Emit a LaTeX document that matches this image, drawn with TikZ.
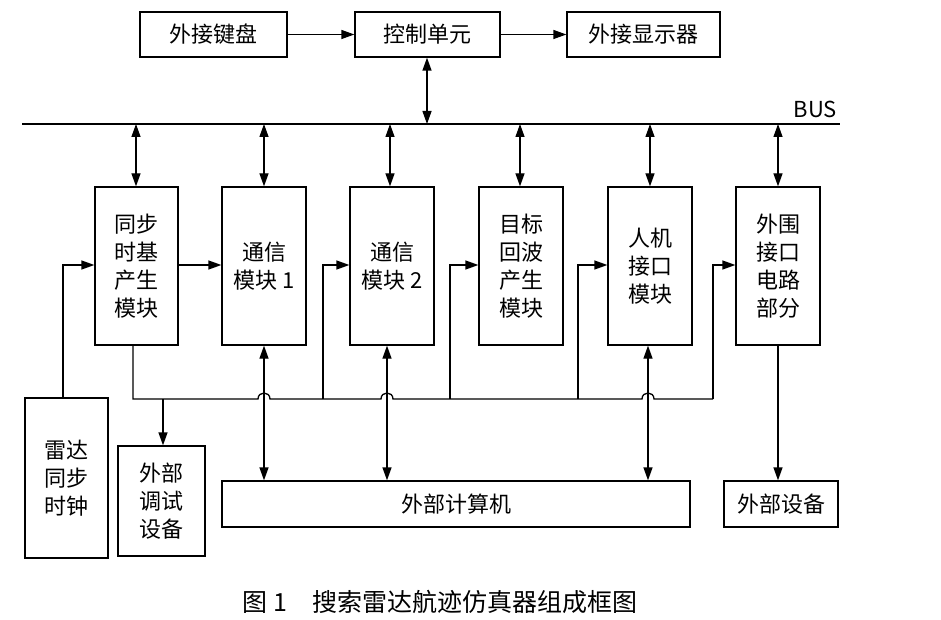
\documentclass[tikz,border=0pt]{standalone}
\usepackage{fontspec}
\setmainfont{Noto Sans CJK SC}
\usetikzlibrary{arrows.meta}
\begin{document}
\begin{tikzpicture}[x=1pt,y=-1pt,
 box/.style={draw,line width=1.3pt,inner sep=0pt,font=\fontsize{22}{28}\selectfont,align=center},
 ln/.style={line width=1.3pt},
 ar/.style={ln,-{Triangle[length=13pt,width=9pt]}},
 dar/.style={ln,{Triangle[length=13pt,width=9pt]}-{Triangle[length=13pt,width=9pt]}}]
\useasboundingbox (0,0) rectangle (941,620);
\def\bx#1#2#3#4#5#6{\node[box,minimum width=#4-#2,minimum height=#5-#3] (#1) at ({(#2+#4)/2},{(#3+#5)/2}) {#6};}
\bx{kb}{140}{12}{287}{57}{外接键盘}
\bx{cu}{355}{12}{500}{57}{控制单元}
\bx{disp}{567}{12}{720}{57}{外接显示器}
\bx{m1}{95}{187}{178}{345}{同步\\时基\\产生\\模块}
\bx{m2}{222}{187}{306}{345}{通信\\模块 1}
\bx{m3}{350}{187}{434}{345}{通信\\模块 2}
\bx{m4}{479}{187}{563}{345}{目标\\回波\\产生\\模块}
\bx{m5}{608}{187}{692}{345}{人机\\接口\\模块}
\bx{m6}{736}{187}{820}{345}{外围\\接口\\电路\\部分}
\bx{rad}{25}{398}{108}{558}{雷达\\同步\\时钟}
\bx{dbg}{118}{446}{205}{556}{外部\\调试\\设备}
\bx{pc}{222}{481}{690}{527}{外部计算机}
\bx{ext}{724}{481}{838}{527}{外部设备}
\coordinate (bl) at (22,124); \coordinate (br) at (840,124);
\draw[ln] (bl) -- (br);
\node[font=\fontsize{22}{28}\selectfont,anchor=south east,inner sep=1pt] (bus) at (838,119) {BUS};
\draw[ar] (kb) -- (cu); \draw[ar] (cu) -- (disp);
\draw[dar] (cu.south -| 427,0) -- (427,124);
\foreach \n/\x in {m1/136,m2/264,m3/390,m4/520,m5/650,m6/778}
 \draw[dar] (\x,124) -- (\n.north -| \x,0);
\foreach \n/\x in {m2/264,m3/387,m5/648}
 \draw[dar] (pc.north -| \x,0) -- (\n.south -| \x,0);
\draw[ar] (rad.north -| 63,0) -- (63,265) -- (m1.west |- 0,265);
\draw[ar] (m1.east |- 0,265) -- (m2.west |- 0,265);
\draw[ln] (m1.south -| 133,0) -- (133,399) -- (258,399) .. controls (258,391) and (270,391) .. (270,399)
 -- (381,399) .. controls (381,391) and (393,391) .. (393,399)
 -- (642,399) .. controls (642,391) and (654,391) .. (654,399) -- (713,399);
\draw[ar] (323,399) -- (323,265) -- (m3.west |- 0,265);
\draw[ar] (450,399) -- (450,265) -- (m4.west |- 0,265);
\draw[ar] (578,399) -- (578,265) -- (m5.west |- 0,265);
\draw[ar] (713,399) -- (713,265) -- (m6.west |- 0,265);
\draw[ar] (163,399) -- (dbg.north -| 163,0);
\draw[ar] (m6.south -| 778,0) -- (ext.north -| 778,0);
\node[font=\fontsize{25}{30}\selectfont] (cap) at (440,602) {图 1\quad 搜索雷达航迹仿真器组成框图};
\end{tikzpicture}
\end{document}
